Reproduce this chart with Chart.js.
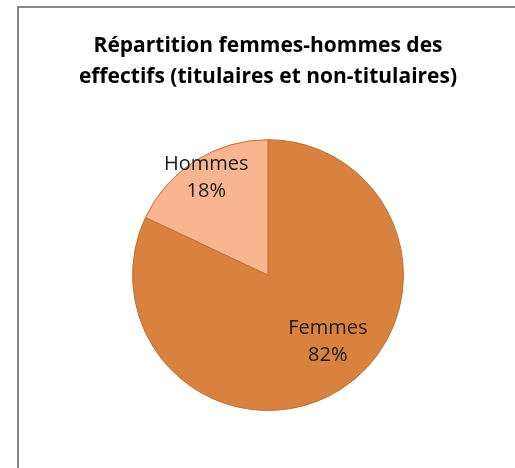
<!DOCTYPE html>
<html lang="fr">
<head>
<meta charset="utf-8">
<script src="https://cdn.jsdelivr.net/npm/chart.js@4"></script>
<style>
  html, body { margin: 0; padding: 0; background: #fff; overflow: hidden; }
  #frame {
    position: absolute; left: 17px; top: 6px; width: 540px; height: 500px;
    border-left: 2px solid #878787; border-top: 2px solid #878787; box-sizing: border-box;
  }
  #wrap { position: absolute; left: 0; top: 0; width: 515px; height: 468px; }
</style>
</head>
<body>
<div id="frame"></div>
<div id="wrap"><canvas id="pieChart" width="515" height="468"></canvas></div>
<script>
// Chart data
const categories = ["Femmes", "Hommes"];
const shares = [82, 18];
const titleLines = ["Répartition femmes-hommes des", "effectifs (titulaires et non-titulaires)"];

// Slice colours (Excel orange theme)
const sliceColors = ["#D9823F", "#F8B590"];

// Where each label sits: fraction of the radius, angle nudge in degrees
const labelPlacement = [
  { radius: 0.66, shift: -9.6 },
  { radius: 0.85, shift: 0 },
];

// Draw "Name\nxx%" labels inside the slices
const sliceLabels = {
  id: "sliceLabels",
  afterDatasetsDraw(chart) {
    const { ctx } = chart;
    const meta = chart.getDatasetMeta(0);
    ctx.save();
    ctx.font = "20px 'Open Sans'";
    ctx.fillStyle = "#1a1a1a";
    ctx.textAlign = "center";
    ctx.textBaseline = "middle";
    meta.data.forEach((arc, i) => {
      const p = arc.getProps(["x", "y", "startAngle", "endAngle", "outerRadius"], true);
      const place = labelPlacement[i];
      const angle = (p.startAngle + p.endAngle) / 2 + place.shift * Math.PI / 180;
      const r = p.outerRadius * place.radius;
      const cx = p.x + Math.cos(angle) * r;
      const cy = p.y + Math.sin(angle) * r;
      ctx.fillText(categories[i], cx, cy - 13.5);
      ctx.fillText(shares[i] + "%", cx, cy + 13.5);
    });
    ctx.restore();
  },
};

const ctx = document.getElementById("pieChart").getContext("2d");

const pieChart = new Chart(ctx, {
  type: "pie",
  data: {
    labels: categories,
    datasets: [
      {
        data: shares,
        backgroundColor: sliceColors,
        borderColor: "#BE6F30",
        borderWidth: 1,
      },
    ],
  },
  options: {
    responsive: false,
    animation: false,
    layout: {
      padding: { left: 21, right: 0, top: 0, bottom: 57 },
    },
    plugins: {
      legend: { display: false },
      tooltip: { enabled: false },
      title: {
        display: true,
        text: titleLines,
        color: "#000",
        font: { family: "'Open Sans'", size: 21, weight: "bold", lineHeight: 1.48 },
        padding: { top: 30, bottom: 47 },
      },
    },
  },
  plugins: [sliceLabels],
});
</script>
</body>
</html>
